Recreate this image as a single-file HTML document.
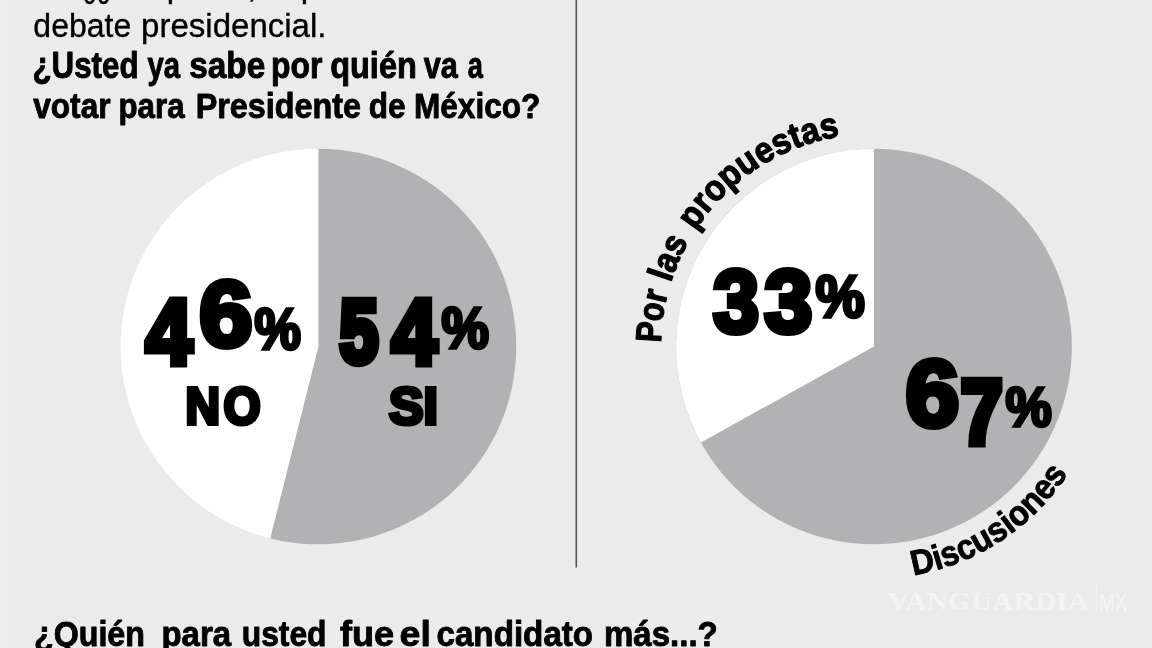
<!DOCTYPE html>
<html lang="es"><head><meta charset="utf-8">
<style>
html,body{margin:0;padding:0;background:#ebebeb;}
body{width:1152px;height:648px;overflow:hidden;}
svg{display:block;font-family:"Liberation Sans",sans-serif;filter:blur(0.6px);}
text{fill:#000;}
.b{font-weight:bold;stroke:#000;stroke-width:0.9px;stroke-linejoin:round;}
.a{stroke:#000;stroke-width:0.35px;}
.c{font-weight:bold;stroke:#000;stroke-width:0.9px;stroke-linejoin:round;}
.num{font-weight:bold;stroke:#000;stroke-linejoin:miter;}
.big{font-size:100px;font-weight:bold;stroke:#000;stroke-width:6px;stroke-linejoin:miter;}
.pct{font-size:100px;font-weight:bold;stroke:#000;stroke-width:6px;stroke-linejoin:miter;}
.lab{font-size:100px;font-weight:bold;stroke:#000;stroke-width:8px;stroke-linejoin:miter;}
.wm{font-family:"Liberation Serif",serif;font-weight:bold;fill:#fff;opacity:.45;}
</style></head><body>
<svg width="1152" height="648" viewBox="0 0 1152 648">
<rect width="1152" height="648" fill="#ebebeb"/>
<rect width="8" height="648" fill="#eee"/>
<defs>
<path id="arcP" d="M661.76 365.06 A213 213 0 0 1 873.95 133.50"/>
<path id="arcD" d="M913.47 575.31 A232.2 232.2 0 0 0 1092.15 425.92"/>
</defs>
<text y="-2.9" font-size="33" class="a"><tspan x="34">De</tspan> <tspan x="83" dy="6.6" textLength="28" lengthAdjust="spacingAndGlyphs">99</tspan> <tspan x="121" dy="-6.6">en pleno, el primer</tspan></text>
<text y="36.8" font-size="33" class="a"><tspan x="33.37" textLength="97.81" lengthAdjust="spacingAndGlyphs">debate</tspan> <tspan x="141.04" textLength="185.49" lengthAdjust="spacingAndGlyphs">presidencial.</tspan></text>
<text y="77.8" font-size="36" class="b"><tspan x="32.52" textLength="105.97" lengthAdjust="spacingAndGlyphs">¿Usted</tspan> <tspan x="147.43" textLength="32.53" lengthAdjust="spacingAndGlyphs">ya</tspan> <tspan x="189.27" textLength="76.02" lengthAdjust="spacingAndGlyphs">sabe</tspan> <tspan x="270.93" textLength="51.39" lengthAdjust="spacingAndGlyphs">por</tspan> <tspan x="330.16" textLength="86.66" lengthAdjust="spacingAndGlyphs">quién</tspan> <tspan x="423.69" textLength="34.13" lengthAdjust="spacingAndGlyphs">va</tspan> <tspan x="467.64" textLength="15.15" lengthAdjust="spacingAndGlyphs">a</tspan></text>
<text y="117.8" font-size="35.5" class="b"><tspan x="33.17" textLength="77.44" lengthAdjust="spacingAndGlyphs">votar</tspan> <tspan x="118.48" textLength="66.08" lengthAdjust="spacingAndGlyphs">para</tspan> <tspan x="195.72" textLength="165.23" lengthAdjust="spacingAndGlyphs">Presidente</tspan> <tspan x="368.85" textLength="36.81" lengthAdjust="spacingAndGlyphs">de</tspan> <tspan x="413.99" textLength="126.39" lengthAdjust="spacingAndGlyphs">México?</tspan></text>
<rect x="575.5" y="0" width="1.6" height="567.6" fill="#555"/>
<circle cx="318.45" cy="346.5" r="197.85" fill="#fff"/>
<path d="M318.45 346.50 L318.45 148.65 A197.85 197.85 0 1 1 270.25 538.39 Z" fill="#b1b2b4"/>
<circle cx="873.95" cy="346.5" r="197.85" fill="#b1b2b4"/>
<path d="M873.95 346.50 L700.91 442.42 A197.85 197.85 0 0 1 873.95 148.65 Z" fill="#fff"/>
<text class="num"><tspan x="145.65" y="364.25" font-size="91.91" textLength="46.45" lengthAdjust="spacingAndGlyphs" stroke-width="6.89">4</tspan><tspan x="199.30" y="346.15" font-size="93.19" textLength="53.30" lengthAdjust="spacingAndGlyphs" stroke-width="6.06">6</tspan><tspan x="254.40" y="348.75" font-size="57.14" textLength="46.37" lengthAdjust="spacingAndGlyphs" stroke-width="3.43">%</tspan></text>
<text class="num"><tspan x="339.85" y="362.25" font-size="88.15" textLength="38.40" lengthAdjust="spacingAndGlyphs" stroke-width="8.37">5</tspan><tspan x="391.40" y="364.25" font-size="91.91" textLength="45.56" lengthAdjust="spacingAndGlyphs" stroke-width="6.89">4</tspan><tspan x="441.55" y="348.40" font-size="57.40" textLength="47.39" lengthAdjust="spacingAndGlyphs" stroke-width="3.44">%</tspan></text>
<text class="num"><tspan x="713.35" y="331.60" font-size="88.67" textLength="45.76" lengthAdjust="spacingAndGlyphs" stroke-width="6.21">3</tspan><tspan x="764.40" y="331.60" font-size="88.67" textLength="47.75" lengthAdjust="spacingAndGlyphs" stroke-width="6.21">3</tspan><tspan x="815.50" y="317.00" font-size="58.45" textLength="49.28" lengthAdjust="spacingAndGlyphs" stroke-width="3.51">%</tspan></text>
<text class="num"><tspan x="905.60" y="425.80" font-size="93.71" textLength="53.82" lengthAdjust="spacingAndGlyphs" stroke-width="6.09">6</tspan><tspan x="960.90" y="442.70" font-size="90.79" textLength="41.44" lengthAdjust="spacingAndGlyphs" stroke-width="8.17">7</tspan><tspan x="1005.60" y="426.10" font-size="56.35" textLength="46.25" lengthAdjust="spacingAndGlyphs" stroke-width="3.38">%</tspan></text>
<text transform="translate(185.57 423.69) scale(0.4779 0.5228)" class="lab" style="letter-spacing:7px">NO</text>
<text transform="translate(389.04 423.87) scale(0.5181 0.5253)" class="lab">SI</text>
<text font-size="36" class="c" style="stroke-width:1.3px"><textPath href="#arcP" startOffset="22.3" textLength="51" lengthAdjust="spacingAndGlyphs">Por</textPath><textPath href="#arcP" startOffset="83.3" textLength="45" lengthAdjust="spacingAndGlyphs">las</textPath><textPath href="#arcP" startOffset="140.8" textLength="178" lengthAdjust="spacingAndGlyphs">propuestas</textPath></text>
<text font-size="35" class="c"><textPath href="#arcD" textLength="190" lengthAdjust="spacingAndGlyphs">Discusiones</textPath></text>
<text x="888" y="610.2" font-size="25" textLength="201" lengthAdjust="spacingAndGlyphs" class="wm">VANGUARDIA</text>
<rect x="1095.8" y="584.5" width="1" height="28" fill="#fff" opacity=".5"/>
<text x="1099" y="610.5" font-size="26" textLength="28.5" lengthAdjust="spacingAndGlyphs" style="fill:#fff;opacity:.5">MX</text>
<text y="646.4" font-size="35.5" class="b"><tspan x="34.10" textLength="110.80" lengthAdjust="spacingAndGlyphs">¿Quién</tspan> <tspan x="161.46" textLength="69.68" lengthAdjust="spacingAndGlyphs">para</tspan> <tspan x="241.72" textLength="84.81" lengthAdjust="spacingAndGlyphs">usted</tspan> <tspan x="340.00" textLength="54.17" lengthAdjust="spacingAndGlyphs">fue</tspan> <tspan x="399.63" textLength="31.17" lengthAdjust="spacingAndGlyphs">el</tspan> <tspan x="436.48" textLength="156.67" lengthAdjust="spacingAndGlyphs">candidato</tspan> <tspan x="603.92" textLength="113.84" lengthAdjust="spacingAndGlyphs">más...?</tspan></text>
</svg></body></html>
